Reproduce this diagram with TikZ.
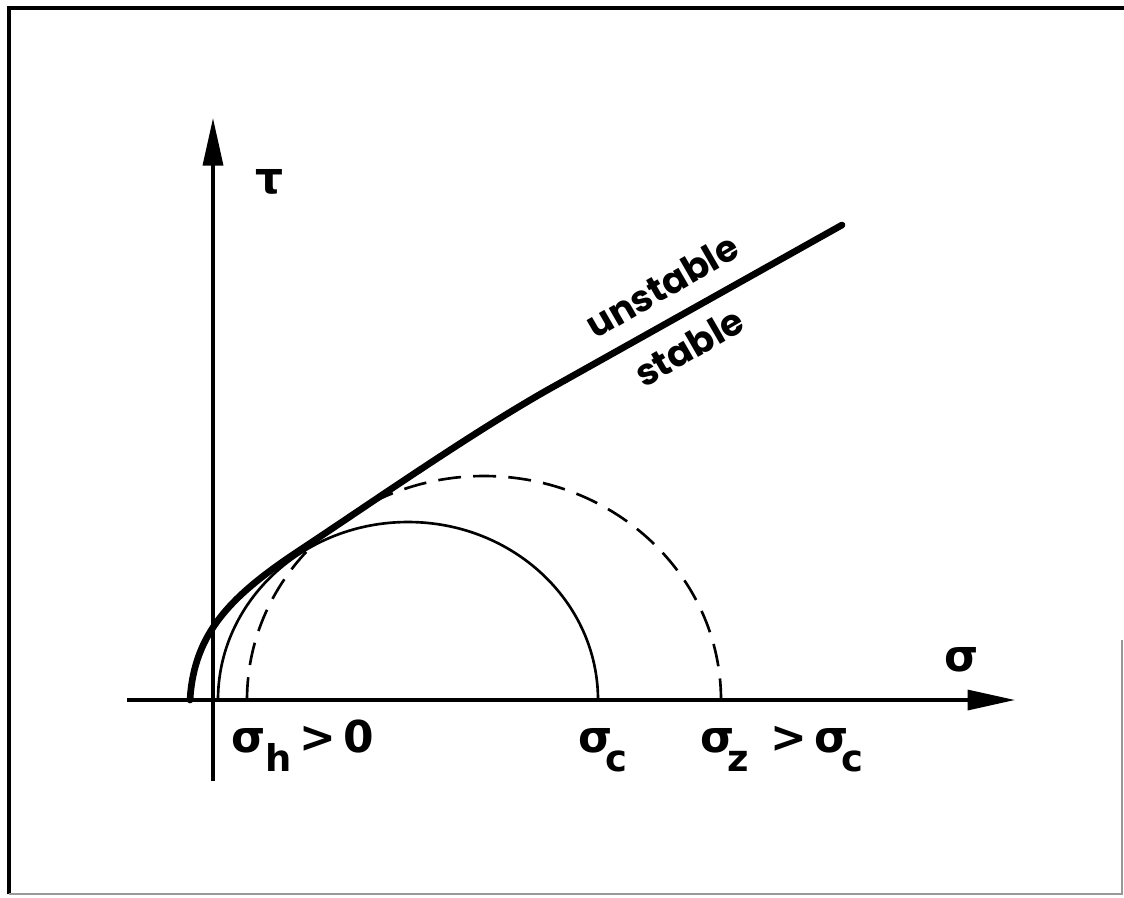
\documentclass[tikz,border=0pt]{standalone}
\usepackage{fontspec}
\setmainfont{Poppins}
\newfontfamily\grk{DejaVu Sans}
\usetikzlibrary{arrows.meta}

% lowered index, nearly as large as the letter
\newcommand{\lowidx}[2][-4pt]{\kern#1\raisebox{-0.8ex}{\fontsize{21}{22}\selectfont #2}}

\begin{document}
\begin{tikzpicture}[x=0.02cm, y=-0.02cm,
  font=\bfseries,
  axis/.style={line width=1.9pt, -{Triangle[length=0.95cm,width=0.4cm]}},
  circ/.style={line width=1.5pt},
  envelope/.style={line width=3.8pt, line cap=round},
  word/.style={font=\fontsize{21}{24}\selectfont\bfseries, rotate=30},
  sym/.style={font=\fontsize{25}{28}\selectfont\bfseries\grk, inner sep=0pt}
]
\useasboundingbox (0,0) rectangle (1124,897);
% frame
\coordinate (bl) at (9,894);
\coordinate (tl) at (9,8);
\coordinate (tr) at (1124,8);
\coordinate (rt) at (1122,640);
\coordinate (br) at (1122,894);
\draw[line width=2.4pt] (bl) -- (tl) -- (tr);
\draw[line width=0.6pt, black!40] (rt) -- (br) -- (bl);

% axes
\coordinate (xstart) at (127,700);
\coordinate (xend) at (1015,700);
\coordinate (ystart) at (213,781);
\coordinate (yend) at (213,118);
\draw[axis] (xstart) -- (xend);
\draw[axis] (ystart) -- (yend);
\node[sym] (tau) at (270,182) {τ};
\node[sym] (sigma) at (962,660) {σ};

% Mohr circles
\coordinate (h) at (218,700);
\coordinate (z) at (247,700);
\draw[circ] (h) arc[start angle=180, end angle=360, x radius=190, y radius=178];
\draw[circ, dash pattern=on 13pt off 7pt] (z) arc[start angle=180, end angle=360, x radius=237, y radius=224];

% failure envelope
\coordinate (e0) at (190,700);
\coordinate (e1) at (300,550);
\coordinate (e2) at (560,383);
\coordinate (e3) at (842,225);
\draw[envelope] (e0) .. controls (194,632) and (232,595) .. (e1)
  .. controls (380,497) and (480,427) .. (e2) -- (e3);
\node[word] (unst) at (662,286) {unstable};
\node[word] (st) at (689,347) {stable};

% labels on the sigma axis
\node[sym, anchor=base west] (lh) at (231,752) {σ\lowidx[0pt]{h}\,>\,0};
\node[sym, anchor=base west] (lc) at (578,752) {σ\lowidx{c}};
\node[sym, anchor=base west] (lz) at (700,752) {σ\lowidx{z}\hspace{12pt}>\,σ\lowidx{c}};
\end{tikzpicture}
\end{document}
